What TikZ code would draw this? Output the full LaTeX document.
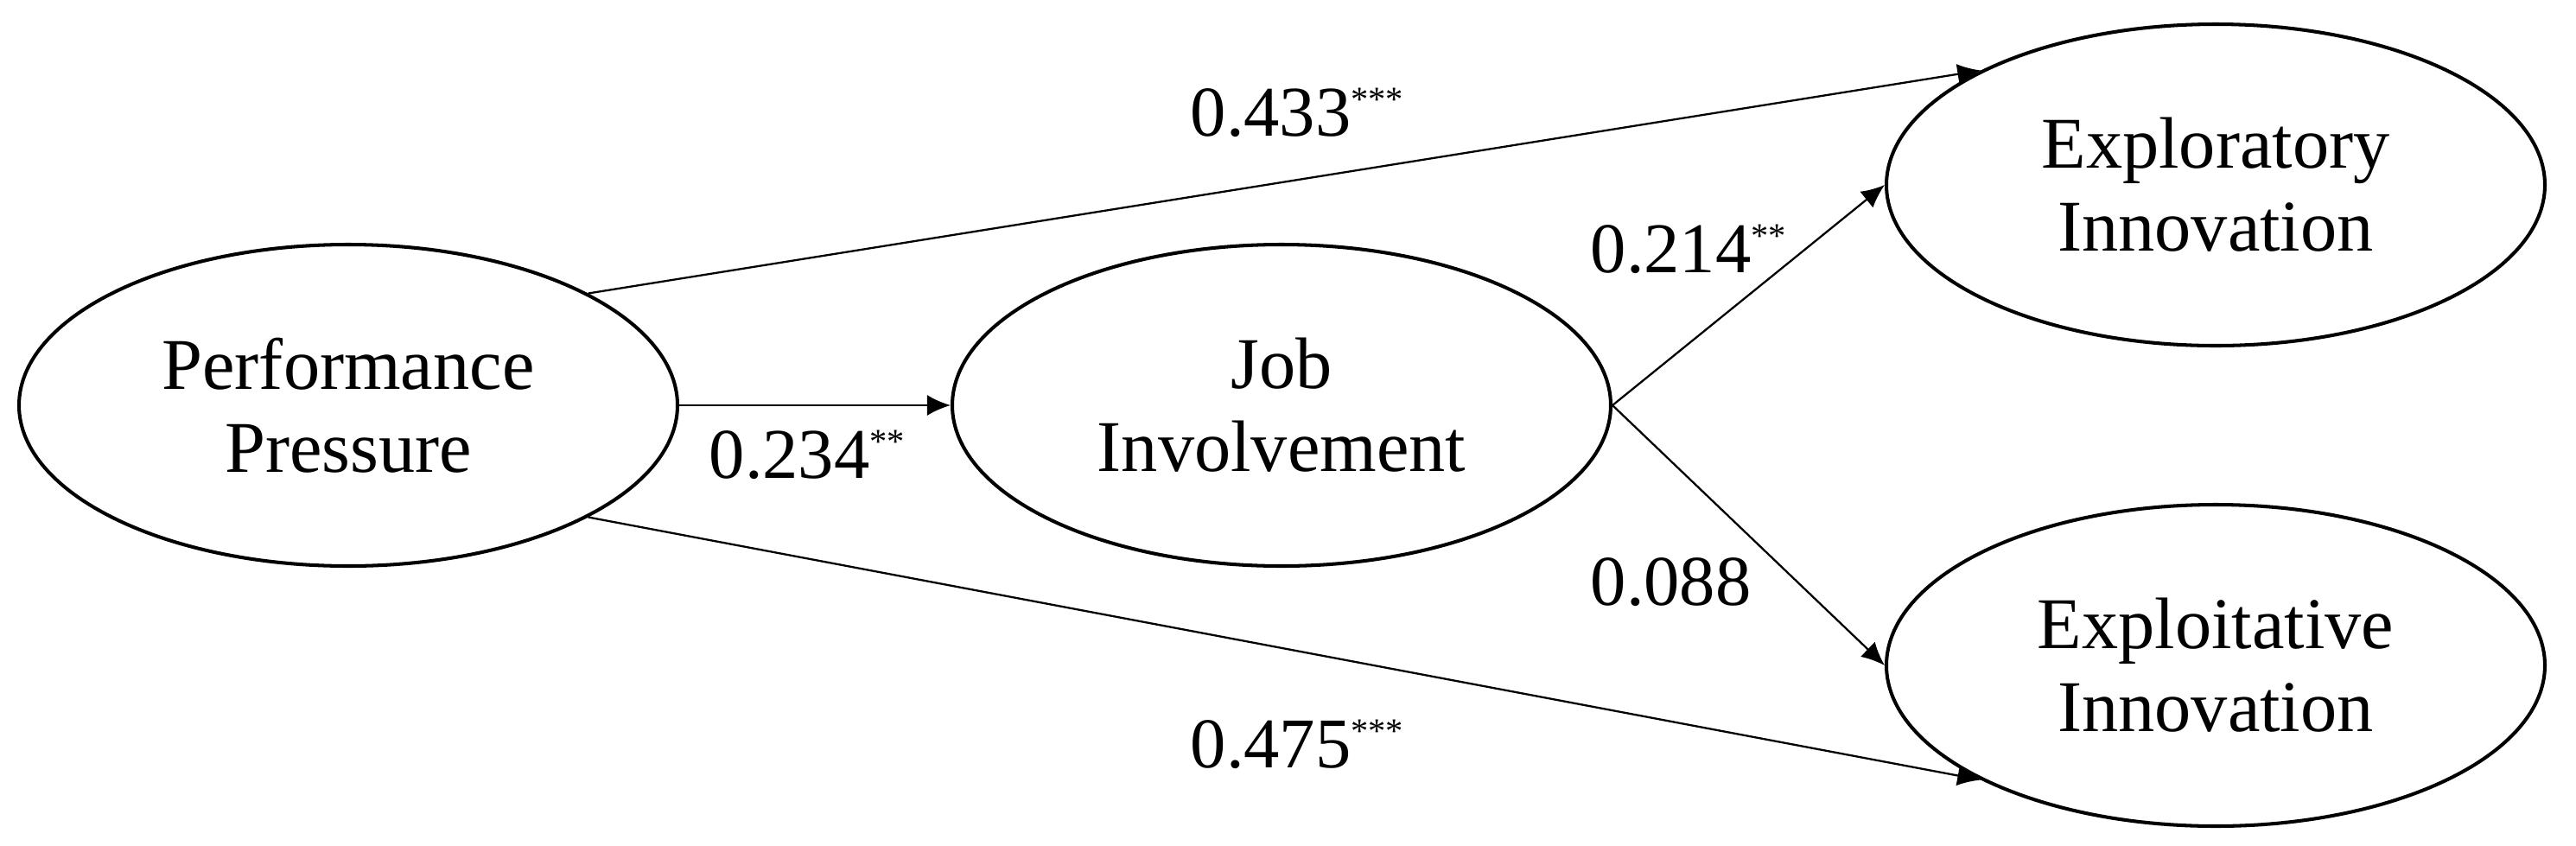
\documentclass[tikz,border=0pt]{standalone}
\usepackage{fontspec}
\setmainfont{Liberation Serif}
\usetikzlibrary{arrows.meta,shapes.geometric}
\newcommand{\sigstar}[1]{\raisebox{8pt}{\fontsize{11.5}{12}\selectfont #1}}
\begin{document}
\begin{tikzpicture}[x=1cm,y=1cm,
  latent/.style={ellipse,draw=black,line width=1.15pt,inner sep=0pt,
    minimum width=7.62cm,minimum height=3.72cm,align=center,
    font=\fontsize{24}{27.3}\selectfont},
  path/.style={line width=0.65pt,-{Latex[length=0.27cm,width=0.24cm]}},
  coef/.style={anchor=base west,inner sep=0pt,font=\fontsize{23.5}{27.3}\selectfont}]
\useasboundingbox (0,0) rectangle (29.81,-9.78);
\node[latent] (pp)  at (4.03,-4.69)  {Performance\\Pressure};
\node[latent] (ji)  at (14.83,-4.69) {Job\\Involvement};
\node[latent] (exr) at (25.64,-2.14) {Exploratory\\Innovation};
\node[latent] (exi) at (25.64,-7.70) {Exploitative\\Innovation};
\draw[path] (pp.east) -- (ji.west);
\draw[path] (pp.25.5) -- (exr.154.2);
\draw[path] (pp.-25.9) -- (exi.-154);
\draw[path] (ji.east) -- (exr.west);
\draw[path] (ji.east) -- (exi.west);
\node[coef] (l1) at (13.77,-1.57) {0.433\sigstar{***}};
\node[coef] (l2) at (13.77,-8.88) {0.475\sigstar{***}};
\node[coef] (l3) at (8.20,-5.53)  {0.234\sigstar{**}};
\node[coef] (l4) at (18.40,-3.15) {0.214\sigstar{**}};
\node[coef] (l5) at (18.40,-7.00) {0.088};
\end{tikzpicture}
\end{document}
